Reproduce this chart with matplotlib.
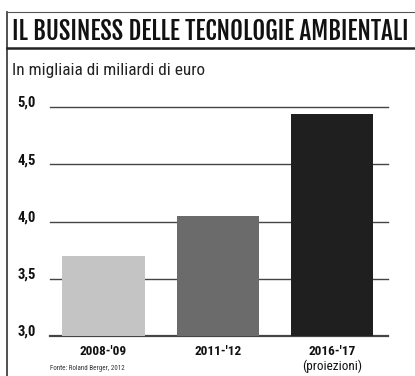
import matplotlib.pyplot as plt
from matplotlib.lines import Line2D

periods = ["2008-'09", "2011-'12", "2016-'17"]
values = [3.70, 4.05, 4.94]
bar_colors = ["#c4c4c4", "#6b6b6b", "#1f1f1f"]
yticks = [3.0, 3.5, 4.0, 4.5, 5.0]
ytick_labels = ["3,0", "3,5", "4,0", "4,5", "5,0"]

title_font = ["Fjalla One", "Barlow Condensed", "DejaVu Sans"]
narrow = ["Roboto Condensed", "Barlow Condensed", "DejaVu Sans"]

fig = plt.figure(figsize=(4.15, 3.76), dpi=100)
fig.patch.set_facecolor("white")


def fit_width(txt, width_px):
    # shrink/grow font so the text spans the wanted width
    r = fig.canvas.get_renderer()
    w = txt.get_window_extent(renderer=r).width
    txt.set_fontsize(txt.get_fontsize() * width_px / w)


# frame lines of the newspaper box
fig.add_artist(Line2D([7/415, 7/415], [0, 1 - 12/376], color="#333333", lw=1.2))
fig.add_artist(Line2D([7/415, 1], [1 - 12/376, 1 - 12/376], color="#555555", lw=0.8))
fig.add_artist(Line2D([7/415, 1], [1 - 48/376, 1 - 48/376], color="#222222", lw=1.8))

title = fig.text(12/415, 1 - 31/376, "IL BUSINESS DELLE TECNOLOGIE AMBIENTALI",
                 family=title_font, fontweight="bold", fontsize=20, va="center",
                 ha="left", color="#111111")
fit_width(title, 396)
sub = fig.text(12/415, 1 - 71/376, "In migliaia di miliardi di euro",
               family=narrow, fontsize=10, va="center", ha="left", color="#222222")
fit_width(sub, 192)

ax = fig.add_axes([50/415, 1 - 336/376, 338/415, (336 - 107)/376])
x = list(range(len(periods)))
ax.bar(x, values, width=0.72, color=bar_colors, zorder=3)
ax.set_xlim(-0.467, 2.49)
ax.set_ylim(3.0, 5.0)

for y in yticks:
    ax.axhline(y, color="#444444", lw=1.0 if y > 3.0 else 1.6, zorder=2, clip_on=False)

for s in ax.spines.values():
    s.set_visible(False)
ax.set_xticks([])
ax.set_yticks([])

for y, lab in zip(yticks, ytick_labels):
    ax.annotate(lab, xy=(0, y), xycoords=("axes fraction", "data"),
                xytext=(-10, 3), textcoords="offset points", ha="right", va="center",
                family=narrow, fontweight="bold", fontsize=10.5, color="#111111")

for xi, lab in zip(x, periods):
    ax.annotate(lab, xy=(xi, 3.0), xycoords="data", xytext=(0, -11),
                textcoords="offset points", ha="center", va="center",
                family=narrow, fontweight="bold", fontsize=9.5, color="#111111")
ax.annotate("(proiezioni)", xy=(2, 3.0), xycoords="data", xytext=(0, -22),
            textcoords="offset points", ha="center", va="center",
            family=narrow, fontsize=9.5, color="#111111")

fig.text(50/415, 1 - 368/376, "Fonte: Roland Berger, 2012", family=narrow,
         fontsize=5, va="center", ha="left", color="#333333")

fig.savefig("out.png", dpi=100, facecolor="white")
